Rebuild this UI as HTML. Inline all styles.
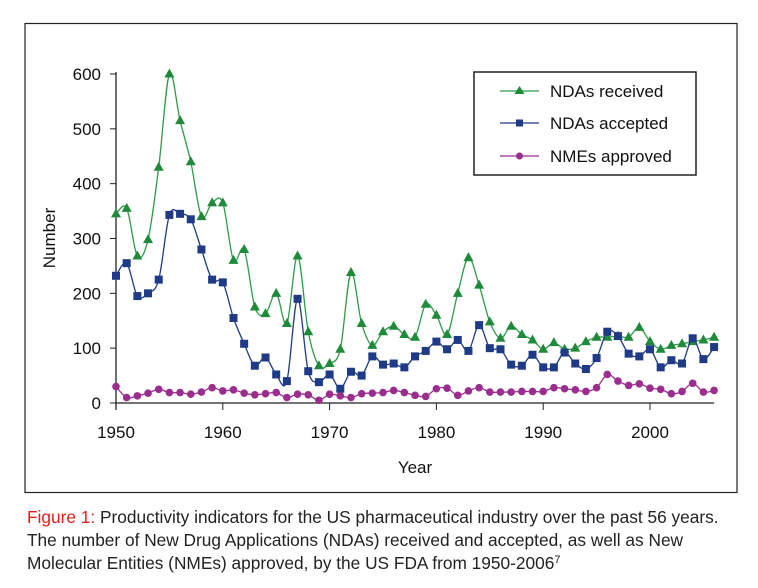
<!DOCTYPE html>
<html><head><meta charset="utf-8"><style>
body{margin:0;background:#fff;width:758px;height:588px;overflow:hidden;font-family:"Liberation Sans",sans-serif}
svg{position:absolute;left:0;top:0}
</style></head><body>
<svg id="chart" width="758" height="588">
<rect x="25" y="23.5" width="712" height="469" fill="none" stroke="#222" stroke-width="1.2"/>
<g id="axes"></g>
<g id="series"></g>
<g>
<rect x="474" y="72" width="222" height="103" fill="#fff" stroke="#222" stroke-width="1.5"/>
<g><line x1="500" y1="91" x2="539" y2="91" stroke="#2e9a4a" stroke-width="1.3"/><path d="M519.5,86 L524.5,94 L514.5,94Z" fill="#1f8a3a"/><text x="550" y="97" font-size="17" fill="#111">NDAs received</text></g>
<g><line x1="500" y1="123" x2="539" y2="123" stroke="#1f3a86" stroke-width="1.3"/><rect x="516" y="119.5" width="7" height="7" fill="#1f3a86"/><text x="550" y="129" font-size="17" fill="#111">NDAs accepted</text></g>
<g><line x1="500" y1="156" x2="539" y2="156" stroke="#9b2d8f" stroke-width="1.3"/><circle cx="519.5" cy="156" r="3.5" fill="#9b2d8f"/><text x="550" y="162" font-size="17" fill="#111">NMEs approved</text></g>
</g>
<text x="415" y="473" font-size="17" text-anchor="middle" fill="#111">Year</text>
<text transform="translate(55,238) rotate(-90)" font-size="17" text-anchor="middle" fill="#111">Number</text>
<g font-size="17.3" fill="#222">
<text x="27" y="523"><tspan fill="#e0201c">Figure 1:</tspan> Productivity indicators for the US pharmaceutical industry over the past 56 years.</text>
<text x="27" y="546">The number of New Drug Applications (NDAs) received and accepted, as well as New</text>
<text x="27" y="569">Molecular Entities (NMEs) approved, by the US FDA from 1950-2006<tspan font-size="11" dy="-6">7</tspan></text>
</g>
</svg>
<script>
const years=[];for(let y=1950;y<=2006;y++)years.push(y);
const received=[345,355,268,298,430,600,515,440,340,365,365,260,280,175,163,200,145,268,130,68,72,98,238,145,105,130,140,125,120,180,160,125,200,265,215,148,118,140,125,115,98,110,98,100,112,120,120,122,120,138,112,98,105,108,112,115,120];
const accepted=[232,255,195,200,225,343,345,335,280,225,220,155,108,68,83,52,40,190,58,38,52,26,57,50,85,70,72,65,85,95,112,98,115,95,142,100,98,70,68,88,65,65,92,72,62,82,130,122,90,85,98,65,78,72,118,80,102];
const nmes=[30,10,13,18,25,19,19,16,20,28,22,24,18,15,17,19,10,16,15,5,16,13,10,17,18,19,23,19,14,12,26,27,14,22,28,20,20,20,21,21,21,28,26,24,21,28,52,40,32,35,27,25,17,21,36,20,23];
const yTicks=[0,100,200,300,400,500,600];
const xTicks=[1950,1960,1970,1980,1990,2000];
const NS="http://www.w3.org/2000/svg";
const X=y=>116+(y-1950)*(650-116)/50;
const Y=v=>403-v*(403-74)/600;
function mk(t,a,p){const e=document.createElementNS(NS,t);for(const k in a)e.setAttribute(k,a[k]);(p||document.getElementById('series')).appendChild(e);return e;}
const ax=document.getElementById('axes');
const ya=mk('line',{x1:116,y1:Y(600)-2,x2:116,y2:Y(0)+7,stroke:'#222','stroke-width':1.3},ax);


const xa=mk('line',{x1:116,y1:Y(0),x2:X(2006),y2:Y(0),stroke:'#222','stroke-width':1.3},ax);


yTicks.forEach(v=>{mk('line',{x1:110,y1:Y(v),x2:116,y2:Y(v),stroke:'#222'},ax);
const t=mk('text',{x:101,y:Y(v)+6,'font-size':17,'text-anchor':'end',fill:'#111'},ax);t.textContent=v;

});
xTicks.forEach(v=>{mk('line',{x1:X(v),y1:Y(0),x2:X(v),y2:Y(0)+7,stroke:'#222'},ax);
const t=mk('text',{x:X(v),y:438,'font-size':17,'text-anchor':'middle',fill:'#111'},ax);t.textContent=v;

});
function smooth(pts){let d='M'+pts[0][0]+','+pts[0][1];const k=0.5/3;
for(let i=0;i<pts.length-1;i++){const p0=pts[Math.max(0,i-1)],p1=pts[i],p2=pts[i+1],p3=pts[Math.min(pts.length-1,i+2)];
d+=' C'+(p1[0]+(p2[0]-p0[0])*k)+','+(p1[1]+(p2[1]-p0[1])*k)+' '+(p2[0]-(p3[0]-p1[0])*k)+','+(p2[1]-(p3[1]-p1[1])*k)+' '+p2[0]+','+p2[1];}return d;}
function series(vals,color,mark,name){
const pts=vals.map((v,i)=>[X(years[i]),Y(v)]);
const l=mk('path',{d:smooth(pts),fill:'none',stroke:color,'stroke-width':1.3});


pts.forEach(p=>{let m;
if(mark==='tri')m=mk('path',{d:`M${p[0]},${p[1]-5.5} L${p[0]+5},${p[1]+3.5} L${p[0]-5},${p[1]+3.5}Z`,fill:'#1f8a3a'});
else if(mark==='sq')m=mk('rect',{x:p[0]-4,y:p[1]-4,width:8,height:8,fill:'#1f3a86'});
else m=mk('circle',{cx:p[0],cy:p[1],r:3.8,fill:'#9b2d8f'});

});}
series(received,'#2e9a4a','tri','ndas-received');
series(accepted,'#1f3a86','sq','ndas-accepted');
series(nmes,'#9b2d8f','dot','nmes-approved');
</script>
</body></html>
